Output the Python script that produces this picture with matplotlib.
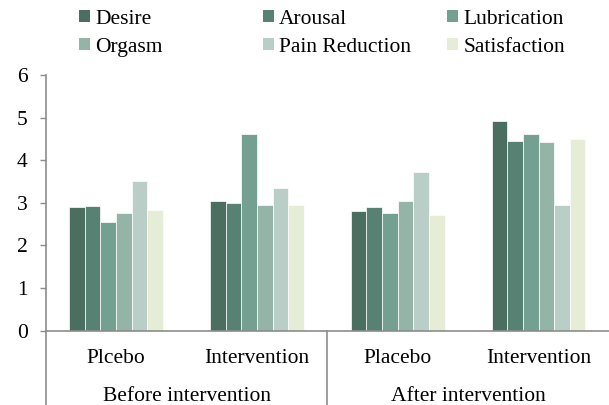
import matplotlib
matplotlib.use("Agg")
import matplotlib.pyplot as plt
from matplotlib.patches import Patch
import numpy as np

plt.rcParams['font.family'] = ['Liberation Serif', 'DejaVu Serif']

groups = ["Before intervention", "After intervention"]
categories = ["Plcebo", "Intervention", "Placebo", "Intervention"]
series = ["Desire", "Arousal", "Lubrication", "Orgasm", "Pain Reduction", "Satisfaction"]
desire = [2.89, 3.03, 2.80, 4.92]
arousal = [2.92, 2.99, 2.89, 4.44]
lubrication = [2.55, 4.61, 2.77, 4.61]
orgasm = [2.75, 2.95, 3.05, 4.42]
pain_reduction = [3.50, 3.34, 3.72, 2.94]
satisfaction = [2.84, 2.95, 2.71, 4.49]
values = [desire, arousal, lubrication, orgasm, pain_reduction, satisfaction]
colors = ["#4a6e60", "#578273", "#73a090", "#94b4a8", "#b8cec7", "#e5edd6"]
yticks = [0, 1, 2, 3, 4, 5, 6]

FS = 15.5
W, H = 609, 405
fig = plt.figure(figsize=(W / 100, H / 100), dpi=100)
ax = fig.add_axes([45.7 / W, (H - 330.5) / H, (W - 45.7) / W, (330.5 - 75) / H])

x = np.arange(len(categories))
bw = 0.111
n = len(series)
for i, (vals, c) in enumerate(zip(values, colors)):
    ax.bar(x + (i - (n - 1) / 2) * bw, vals, width=bw, color=c,
           edgecolor="white", linewidth=0.5, label=series[i], zorder=2)

ax.set_xlim(-0.5, len(categories) - 0.5)
ax.set_ylim(0, 6)
ax.set_yticks(yticks)
ax.set_yticklabels([str(t) for t in yticks], fontsize=FS)
ax.set_xticks(x)
ax.set_xticklabels(categories, fontsize=FS)
ax.tick_params(axis="x", length=0, pad=13)
ax.tick_params(axis="y", length=4, width=1, color="#8c8c8c", pad=9)

for s in ["top", "right"]:
    ax.spines[s].set_visible(False)
for s in ["left", "bottom"]:
    ax.spines[s].set_color("#8c8c8c")
    ax.spines[s].set_linewidth(1.2)

# group separators below the axis
xt = ax.get_xaxis_transform()
for xv in [-0.5, 1.5]:
    ax.plot([xv, xv], [0, -0.3], transform=xt, color="#8c8c8c", lw=1.2, clip_on=False)

# group labels
for gi, g in enumerate(groups):
    ax.text(gi * 2 + 0.5, -(401 - 330.5) / (330.5 - 75), g, transform=xt,
            ha="center", va="baseline", fontsize=FS)

# legend in three columns
for col in range(3):
    idx = [col, col + 3]
    handles = [Patch(facecolor=colors[k], edgecolor="none") for k in idx]
    labels = [series[k] for k in idx]
    fig.legend(handles, labels, loc="upper left",
               bbox_to_anchor=([79.3, 263, 447][col] / W, 1 - 9.5 / H),
               bbox_transform=fig.transFigure, frameon=False, fontsize=FS,
               handlelength=0.5, handleheight=0.5, handletextpad=0.25,
               borderpad=0, borderaxespad=0, labelspacing=0.44)

fig.savefig("out.png", dpi=100)
